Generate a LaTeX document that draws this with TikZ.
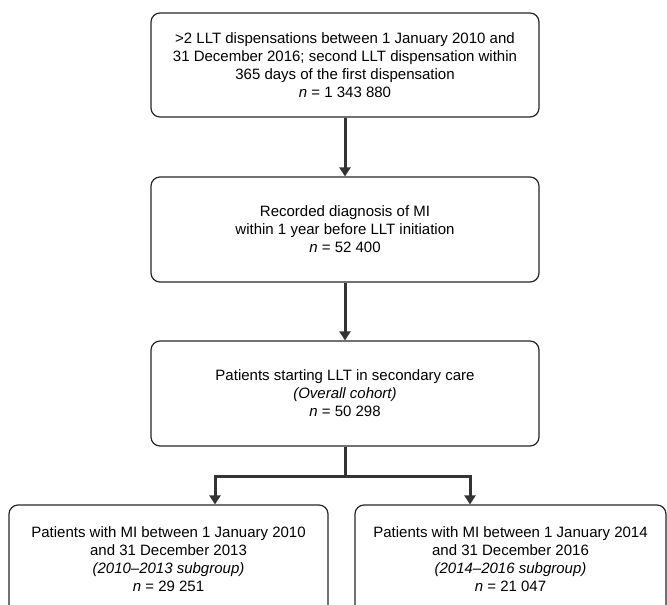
\documentclass[tikz,border=0pt]{standalone}
\usepackage{fontspec}
\setmainfont{Liberation Sans}
\usetikzlibrary{arrows.meta}
\begin{document}
\begin{tikzpicture}[x=1pt,y=-1pt,
  box/.style={draw=black!85, line width=1.2pt, rounded corners=9pt, align=center,
    font=\fontsize{15}{18}\selectfont, inner sep=0pt},
  txt/.style={align=center, font=\fontsize{15}{18}\selectfont, inner sep=0pt},
  flow/.style={draw=black!80, line width=3pt, line join=miter, -{Triangle[length=9pt,width=11pt]}},
  trunk/.style={draw=black!80, line width=3pt}
]
\useasboundingbox (0,0) rectangle (667,605);
\clip (0,0) rectangle (667,605);

\node[box, minimum width=388pt, minimum height=104pt] (b1) at (345,65)
  {>2 LLT dispensations between 1 January 2010 and\\
   31 December 2016; second LLT dispensation within\\
   365 days of the first dispensation\\
   \textit{n} = 1 343 880};

\node[box, minimum width=388pt, minimum height=105pt] (b2) at (345,229.5)
  {Recorded diagnosis of MI\\
   within 1 year before LLT initiation\\
   \textit{n} = 52 400};

\node[box, minimum width=388pt, minimum height=105pt] (b3) at (345,393.5)
  {Patients starting LLT in secondary care\\
   \textit{(Overall cohort)}\\
   \textit{n} = 50 298};

\node[box, minimum width=319pt, minimum height=135pt] (bl) at (168.5,572.5) {};
\node[box, minimum width=311pt, minimum height=135pt] (br) at (510.5,572.5) {};

\node[txt] (tl) at (168.5,559.5)
  {Patients with MI between 1 January 2010\\
   and 31 December 2013\\
   \textit{(2010–2013 subgroup)}\\
   \textit{n} = 29 251};
\node[txt] (tr) at (510.5,559.5)
  {Patients with MI between 1 January 2014\\
   and 31 December 2016\\
   \textit{(2014–2016 subgroup)}\\
   \textit{n} = 21 047};

\draw[flow] (b1.south) -- (b2.north);
\draw[flow] (b2.south) -- (b3.north);

\coordinate (j) at (345,476);
\coordinate (jl) at (215,476);
\coordinate (jr) at (470,476);
\draw[trunk] (b3.south) -- (j);
\draw[flow] (j) -- (jl) -- (jl |- bl.north);
\draw[flow] (j) -- (jr) -- (jr |- br.north);
\end{tikzpicture}
\end{document}
